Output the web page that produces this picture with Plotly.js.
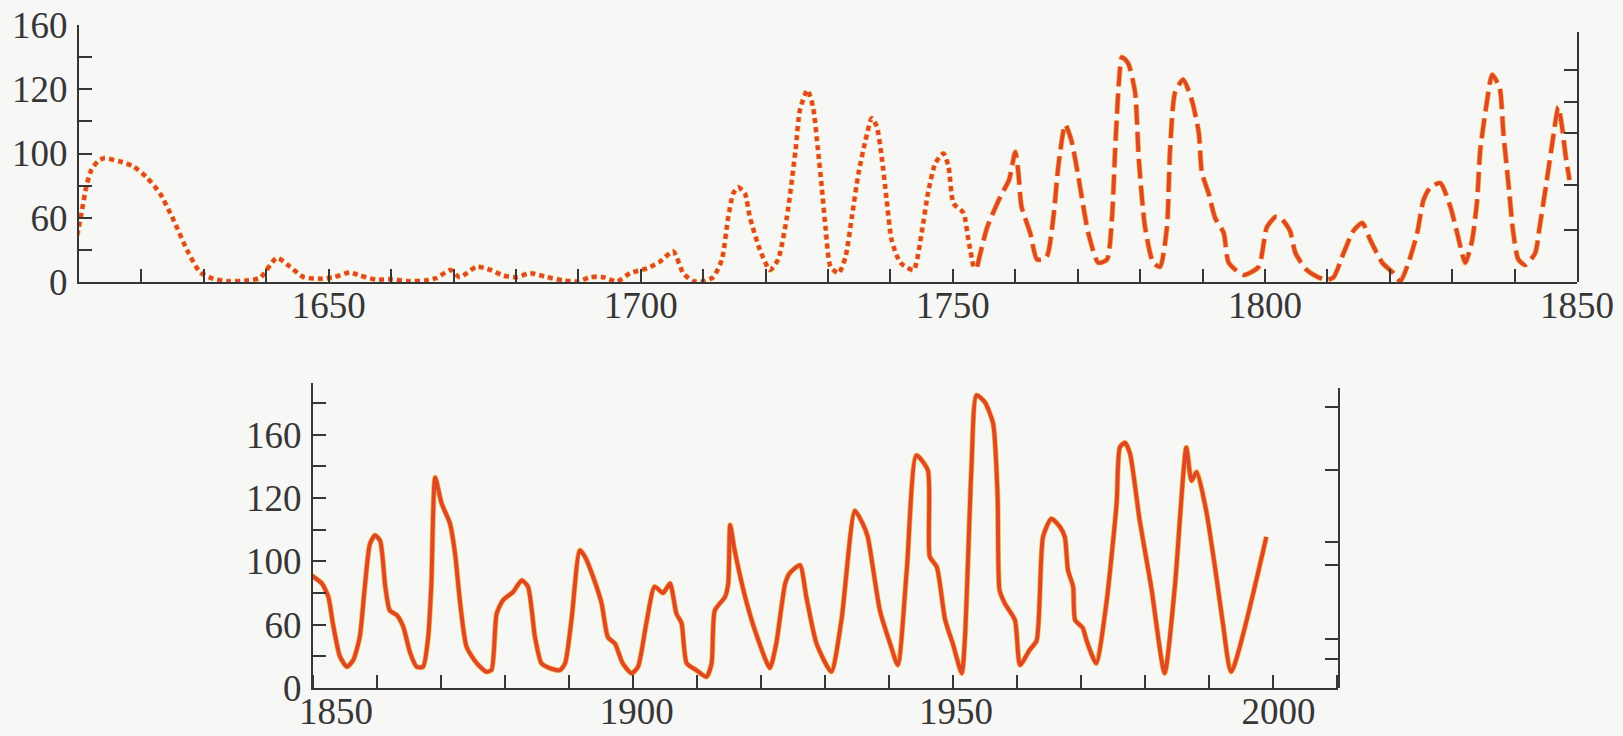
<!DOCTYPE html>
<html>
<head>
<meta charset="utf-8">
<script src="https://cdn.plot.ly/plotly-3.0.1.min.js"></script>
<style>
  html, body { margin: 0; padding: 0; background: #f7f7f5; }
  #chart { width: 1623px; height: 736px; }
</style>
</head>
<body>
<div id="chart"></div>
<script>
// ---- Top panel: early record (dotted) ----
const earlyYears = [1609.7,1610.4,1611.2,1612.0,1613.0,1614.0,1616.6,1618.7,1620.9,1623.0,1625.1,1627.3,1629.4,1631.5,1634.0,1636.9,1639.0,1641.7,1643.8,1646.0,1648.8,1650.8,1653.4,1655.0,1657.6,1659.8,1663.0,1665.5,1667.3,1669.5,1671.0,1673.7,1675.9,1678.0,1680.0,1682.3,1685.0,1687.6,1690.0,1691.9,1694.0,1696.2,1698.3,1701.0,1703.0,1705.2,1706.8,1708.4,1710.0,1711.6,1713.0,1714.0,1714.8,1715.6,1716.7,1717.5,1719.1,1720.7,1722.0,1723.4,1724.8,1725.5,1726.7,1727.6,1728.4,1729.0,1729.6,1730.4,1731.7,1732.8,1733.8,1734.9,1736.0,1737.0,1737.8,1738.6,1739.4,1740.2,1741.6,1743.7,1745.0,1746.0,1747.2,1748.5,1749.3,1750.1,1751.7,1752.5,1753.3];
const earlyValues = [29,43,60,70,75,77,75,72,65,55,39,20,6,2,0.5,1,2.5,15,9.5,3,2,3,6,4,1.5,1.7,0.5,1,2.5,7.5,3,9.5,7.5,4,3,5.5,3,1,0.3,3,3,0.3,5.5,8.5,12.5,19,5.5,0.5,0.5,3,14,40,55,59,55,40,20,7.5,14,40,82,107,119.5,109,82,59,34,9.5,5.5,15.5,40,68,88,102,97,78,51,26,12,7.5,30.5,55,74,80,72,49,43,26,9.5];

// ---- Top panel: 1754-1849 (dashed) ----
const midYears = [1753.9,1755.5,1757.6,1759.0,1760.0,1760.5,1761.0,1762.4,1763.5,1765.0,1766.1,1766.9,1768.0,1769.0,1770.0,1771.7,1773.3,1774.7,1775.5,1776.0,1776.6,1777.1,1778.1,1779.2,1779.8,1780.8,1782.1,1783.2,1784.3,1784.8,1785.6,1786.9,1788.3,1789.4,1789.9,1791.0,1792.0,1793.4,1794.2,1796.6,1799.0,1800.3,1801.7,1802.5,1804.0,1804.9,1806.7,1809.7,1811.0,1812.6,1814.2,1815.6,1816.9,1818.8,1820.6,1821.7,1823.0,1824.4,1825.4,1826.5,1828.1,1829.7,1830.8,1832.1,1833.2,1834.0,1834.5,1835.6,1836.4,1837.6,1838.2,1839.0,1839.8,1840.6,1841.7,1843.3,1844.0,1845.1,1846.1,1847.0,1847.6,1848.2,1848.8];
const midValues = [9.5,34,53,63.5,81,68,47,30.5,14,15.5,40,72,98,88,68,30.5,12,14,40,82,124,140,136,118,76,34,12,9.5,34,82,118,126,113,93,68,55,40,30.5,12,4.4,9.5,34,40.5,40,32,18,7.5,1.2,3,18,32,36.7,26,12,5.5,0.5,12,30.5,51,59,61.6,47,30.5,12,26,51,82,113,129,121,93,61.6,30.5,14,10.6,18,34,61.6,88,109,96.6,78,63.5];

// ---- Bottom panel: 1850-2000 (solid) ----
const lateYears = [1849.8,1851.4,1852.4,1853.1,1854.2,1855.3,1856.3,1857.3,1858.1,1858.9,1859.7,1860.5,1861.3,1862.0,1863.1,1864.1,1865.2,1866.2,1867.2,1868.0,1868.5,1869.1,1870.1,1871.4,1872.2,1873.0,1874.0,1875.6,1877.1,1877.9,1878.7,1879.7,1881.3,1882.6,1883.6,1884.7,1885.7,1887.0,1888.6,1889.4,1890.4,1891.7,1892.5,1893.8,1895.1,1896.1,1897.2,1898.4,1899.8,1900.8,1902.1,1903.4,1904.7,1905.8,1906.8,1907.6,1908.4,1909.9,1911.5,1912.3,1912.8,1914.4,1914.9,1915.2,1915.9,1917.8,1919.8,1921.4,1922.4,1923.8,1924.5,1926.1,1927.1,1928.7,1931.0,1932.6,1934.7,1935.9,1936.7,1938.6,1940.2,1941.4,1942.8,1944.3,1946.1,1946.4,1947.5,1948.8,1950.0,1951.4,1951.9,1952.9,1953.7,1955.0,1956.3,1957.0,1957.3,1958.1,1959.7,1960.5,1962.0,1963.1,1964.1,1965.4,1966.7,1967.5,1968.0,1968.8,1969.1,1970.3,1970.9,1972.4,1974.0,1975.6,1976.1,1976.9,1977.7,1979.2,1981.0,1983.1,1984.7,1986.5,1987.3,1988.1,1989.6,1991.2,1992.2,1993.5,1999.0];
const lateValues = [71,66,57.6,41,20,13.4,17.7,32,64,91,96.5,93,64,49,46,38.7,22,13.4,13.4,32,66,133,116.6,104,85,53.6,26,15.6,10.3,11.3,47,55.5,60.8,68,64,32,15.6,12.6,11.3,15.6,43,87,83,70,53.6,32,28,15.6,9.3,13.4,41,64,60,66,47,41,15.6,11.3,7.1,15.6,49,57.6,66,103,87,53.6,28,12.6,28,66,72.5,77.6,57.6,28,10.3,43,112,104,95.5,49,28,14.5,74.4,147,137.5,83,76.5,43,28,9.3,32,137.5,185,180.6,167,120.7,62,53.6,43,14.5,24,30,95.5,107,102,95.5,74.4,64,43,38,30,15.6,53.6,116.6,152,155,148,106,64,9.3,64,152,131,136.5,112,70,41,10.3,95.5];

// ---- Tick labels (as printed) ----
const yTickVals = [0, 40, 80, 120, 160];
const yTickText = ['0', '60', '100', '120', '160'];
const topXTickVals = [1650, 1700, 1750, 1800, 1850];
const topXTickText = ['1650', '1700', '1750', '1800', '1850'];
const botXTickVals = [1853.6, 1900.6, 1950.5, 2000.9];
const botXTickText = ['1850', '1900', '1950', '2000'];
const topRightTicks = [155.6, 132, 112.3, 92.6, 60.4, 32.4];
const botRightTicks = [177.5, 137.5, 92.3, 77.6, 30.7, 18.1];

const RED = '#e0472a';
const HALO = '#f2bd45';
const AX = '#363636';
const FONT = {family: 'Liberation Serif, Times New Roman, serif', size: 37, color: AX};

function pair(x, y, xa, ya, dash, shape) {
  return [
    {x: x, y: y, xaxis: xa, yaxis: ya, mode: 'lines', hoverinfo: 'skip',
     line: {color: HALO, width: 5.5, dash: dash, shape: shape, smoothing: 0.6}},
    {x: x, y: y, xaxis: xa, yaxis: ya, mode: 'lines', hoverinfo: 'skip',
     line: {color: RED, width: 4, dash: dash, shape: shape, smoothing: 0.6}}
  ];
}

const traces = [].concat(
  pair(earlyYears, earlyValues, 'x', 'y', '5px,4px', 'spline'),
  pair(midYears, midValues, 'x', 'y', '20px,7px', 'spline'),
  pair(lateYears, lateValues, 'x2', 'y2', 'solid', 'spline'),
  [{x: [], y: [], xaxis: 'x', yaxis: 'y3', mode: 'lines', showlegend: false},
   {x: [], y: [], xaxis: 'x2', yaxis: 'y4', mode: 'lines', showlegend: false}]
);

const axisBase = {
  showline: true, linecolor: AX, linewidth: 2, showgrid: false, zeroline: false,
  ticks: 'inside', ticklen: 13, tickwidth: 2, tickcolor: AX, tickfont: FONT,
  fixedrange: true
};
const minorX = (t0) => ({tickmode: 'linear', tick0: t0, dtick: 10, ticks: 'inside', ticklen: 13, tickwidth: 2, tickcolor: AX});
const minorY = {tickmode: 'linear', tick0: 0, dtick: 20, ticks: 'inside', ticklen: 13, tickwidth: 2, tickcolor: AX};

const layout = {
  width: 1623, height: 736,
  margin: {l: 0, r: 0, t: 0, b: 0},
  paper_bgcolor: '#f7f7f5', plot_bgcolor: 'rgba(0,0,0,0)',
  showlegend: false,
  xaxis: Object.assign({}, axisBase, {
    domain: [0.04868, 0.97166], range: [1610, 1850], anchor: 'y',
    tickmode: 'array', tickvals: topXTickVals, ticktext: topXTickText,
    ticklabelstandoff: -10, minor: minorX(1610)
  }),
  yaxis: Object.assign({}, axisBase, {
    domain: [0.61685, 0.96603], range: [0, 160], anchor: 'x',
    tickmode: 'array', tickvals: yTickVals, ticktext: yTickText,
    ticklabelstandoff: 2, minor: minorY
  }),
  yaxis3: Object.assign({}, axisBase, {
    domain: [0.61685, 0.95611], range: [0, 155.6], anchor: 'x', side: 'right',
    tickmode: 'array', tickvals: topRightTicks, showticklabels: false
  }),
  xaxis2: Object.assign({}, axisBase, {
    domain: [0.19285, 0.82440], range: [1850, 2010.2], anchor: 'y2',
    tickmode: 'array', tickvals: botXTickVals, ticktext: botXTickText, ticks: '',
    ticklabelstandoff: -10, minor: minorX(1850)
  }),
  yaxis2: Object.assign({}, axisBase, {
    domain: [0.06522, 0.47962], range: [0, 192.7], anchor: 'x2',
    tickmode: 'array', tickvals: yTickVals, ticktext: yTickText,
    ticklabelstandoff: 2, minor: minorY
  }),
  yaxis4: Object.assign({}, axisBase, {
    domain: [0.06522, 0.47242], range: [0, 189.4], anchor: 'x2', side: 'right',
    tickmode: 'array', tickvals: botRightTicks, showticklabels: false
  })
};

Plotly.newPlot('chart', traces, layout, {displayModeBar: false, staticPlot: true});
</script>
</body>
</html>
